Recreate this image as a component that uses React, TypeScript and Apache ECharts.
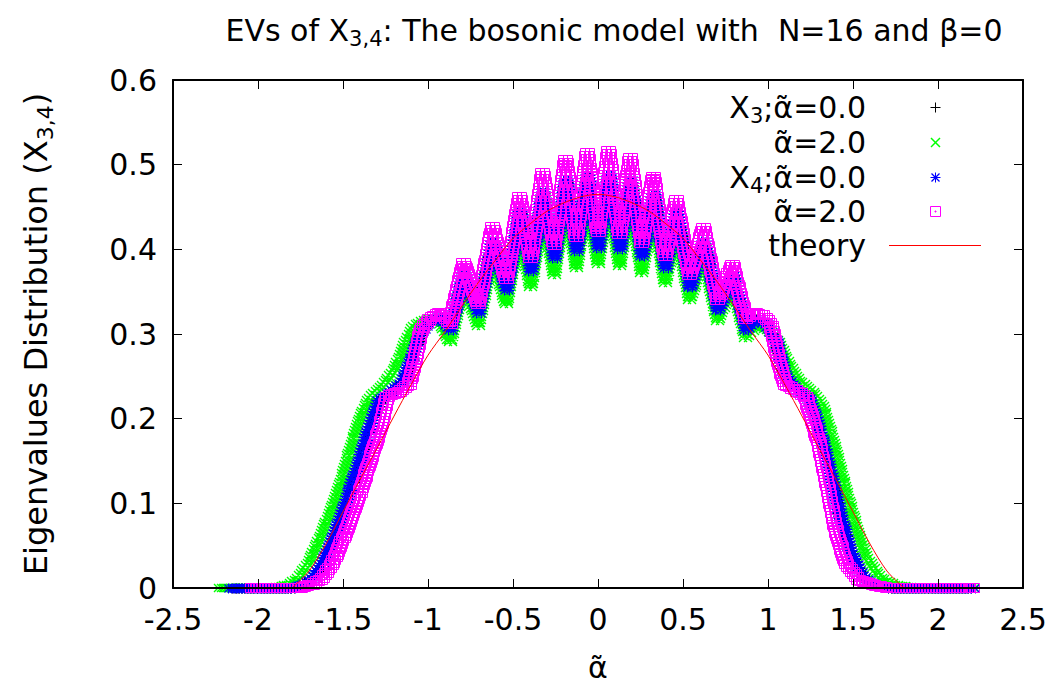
import React, { useEffect, useRef } from "react";
import * as echarts from "echarts";

const FONT = "DejaVu Sans";
const TA = "\u03B1\u0303"; // alpha with tilde

// Axis setup
const X_MIN = -2.5;
const X_MAX = 2.5;
const X_STEP = 0.5;
const Y_MIN = 0;
const Y_MAX = 0.6;
const Y_STEP = 0.1;

const TITLE = "EVs of X{s|3,4}: The bosonic model with  N=16 and \u03B2=0";
const Y_NAME = "Eigenvalues Distribution (X{s|3,4})";
const X_NAME = TA;

const LEGEND_LABELS = [
  `X{s|3};${TA}=0.0`,
  `${TA}=2.0`,
  `X{s|4};${TA}=0.0`,
  `${TA}=2.0`,
  "theory",
];

// X3, alpha~ = 0 (black +)
const x3Alpha0: number[][] = [
  [-2.14, 0], [-1.8, 0], [-1.73, 0.005], [-1.67, 0.014], [-1.61, 0.033], [-1.54, 0.068],
  [-1.46, 0.115], [-1.39, 0.158], [-1.33, 0.198], [-1.28, 0.222], [-1.21, 0.233], [-1.14, 0.247],
  [-1.09, 0.272], [-1.04, 0.302], [-0.98, 0.316], [-0.92, 0.32], [-0.87, 0.307], [-0.79, 0.368],
  [-0.705, 0.327], [-0.62, 0.408], [-0.54, 0.354], [-0.46, 0.443], [-0.395, 0.377], [-0.325, 0.466],
  [-0.258, 0.392], [-0.19, 0.48], [-0.127, 0.4], [-0.063, 0.486], [0, 0.404], [0.063, 0.486],
  [0.127, 0.402], [0.19, 0.48], [0.258, 0.394], [0.325, 0.463], [0.395, 0.38], [0.46, 0.443],
  [0.54, 0.357], [0.62, 0.408], [0.705, 0.33], [0.79, 0.368], [0.87, 0.307], [0.92, 0.318],
  [0.99, 0.311], [1.05, 0.288], [1.1, 0.25], [1.16, 0.236], [1.24, 0.224], [1.29, 0.193],
  [1.35, 0.148], [1.42, 0.088], [1.48, 0.044], [1.55, 0.014], [1.62, 0.004], [1.72, 0], [2.18, 0],
];

// X3, alpha~ = 2 (green x)
const x3Alpha2: number[][] = [
  [-2.22, 0], [-1.9, 0], [-1.82, 0.004], [-1.76, 0.012], [-1.7, 0.03], [-1.62, 0.065],
  [-1.53, 0.112], [-1.46, 0.16], [-1.4, 0.2], [-1.34, 0.225], [-1.26, 0.24], [-1.19, 0.26],
  [-1.13, 0.29], [-1.08, 0.31], [-1.0, 0.318], [-0.93, 0.315], [-0.87, 0.29], [-0.79, 0.36],
  [-0.705, 0.31], [-0.62, 0.395], [-0.54, 0.335], [-0.46, 0.425], [-0.395, 0.355], [-0.325, 0.45],
  [-0.258, 0.37], [-0.19, 0.462], [-0.127, 0.378], [-0.063, 0.468], [0, 0.383], [0.063, 0.468],
  [0.127, 0.38], [0.19, 0.462], [0.258, 0.372], [0.325, 0.45], [0.395, 0.36], [0.46, 0.428],
  [0.54, 0.34], [0.62, 0.395], [0.705, 0.315], [0.79, 0.36], [0.87, 0.295], [0.93, 0.31],
  [1.0, 0.305], [1.06, 0.29], [1.12, 0.265], [1.18, 0.245], [1.26, 0.232], [1.32, 0.215],
  [1.38, 0.175], [1.45, 0.12], [1.52, 0.07], [1.58, 0.035], [1.66, 0.012], [1.74, 0.004],
  [1.85, 0], [2.2, 0],
];

// X4, alpha~ = 0 (blue *)
const x4Alpha0: number[][] = [
  [-2.16, 0], [-1.8, 0], [-1.74, 0.004], [-1.68, 0.012], [-1.62, 0.03], [-1.55, 0.065],
  [-1.47, 0.112], [-1.4, 0.155], [-1.34, 0.195], [-1.29, 0.222], [-1.22, 0.232], [-1.15, 0.245],
  [-1.1, 0.27], [-1.05, 0.3], [-0.99, 0.315], [-0.93, 0.32], [-0.87, 0.305], [-0.79, 0.37],
  [-0.705, 0.325], [-0.62, 0.41], [-0.54, 0.352], [-0.46, 0.445], [-0.395, 0.375], [-0.325, 0.468],
  [-0.258, 0.39], [-0.19, 0.482], [-0.127, 0.398], [-0.063, 0.488], [0, 0.402], [0.063, 0.488],
  [0.127, 0.4], [0.19, 0.482], [0.258, 0.392], [0.325, 0.465], [0.395, 0.378], [0.46, 0.445],
  [0.54, 0.355], [0.62, 0.41], [0.705, 0.328], [0.79, 0.37], [0.87, 0.305], [0.92, 0.318],
  [0.99, 0.312], [1.05, 0.29], [1.1, 0.25], [1.16, 0.235], [1.24, 0.225], [1.29, 0.195],
  [1.35, 0.15], [1.42, 0.09], [1.48, 0.045], [1.55, 0.015], [1.62, 0.004], [1.72, 0], [2.2, 0],
];

// X4, alpha~ = 2 (magenta squares)
const x4Alpha2: number[][] = [
  [-2.03, 0], [-1.75, 0], [-1.68, 0.004], [-1.62, 0.012], [-1.56, 0.03], [-1.48, 0.068],
  [-1.4, 0.112], [-1.34, 0.151], [-1.28, 0.19], [-1.24, 0.226], [-1.17, 0.232], [-1.11, 0.24],
  [-1.08, 0.266], [-1.04, 0.305], [-0.99, 0.318], [-0.93, 0.325], [-0.87, 0.312], [-0.79, 0.384],
  [-0.705, 0.335], [-0.62, 0.426], [-0.54, 0.365], [-0.46, 0.462], [-0.395, 0.39], [-0.325, 0.49],
  [-0.258, 0.405], [-0.19, 0.506], [-0.127, 0.415], [-0.063, 0.514], [0, 0.42], [0.063, 0.516],
  [0.127, 0.418], [0.19, 0.508], [0.258, 0.408], [0.325, 0.486], [0.395, 0.392], [0.46, 0.458],
  [0.54, 0.37], [0.62, 0.425], [0.705, 0.34], [0.79, 0.382], [0.87, 0.318], [0.91, 0.325],
  [0.97, 0.322], [1.02, 0.31], [1.06, 0.27], [1.1, 0.24], [1.16, 0.234], [1.22, 0.226],
  [1.26, 0.2], [1.3, 0.17], [1.35, 0.12], [1.4, 0.068], [1.46, 0.028], [1.53, 0.01],
  [1.62, 0.003], [1.72, 0], [2.2, 0],
];

// theory curve
const theory: number[][] = [
  [-1.8, 0], [-1.7, 0.02], [-1.6, 0.052], [-1.5, 0.09], [-1.4, 0.128], [-1.3, 0.165],
  [-1.2, 0.203], [-1.1, 0.24], [-1.0, 0.275], [-0.9, 0.303], [-0.8, 0.333], [-0.7, 0.362],
  [-0.6, 0.388], [-0.5, 0.413], [-0.4, 0.43], [-0.3, 0.445], [-0.2, 0.455], [-0.1, 0.462],
  [0, 0.465], [0.1, 0.462], [0.2, 0.455], [0.3, 0.445], [0.4, 0.43], [0.5, 0.413],
  [0.6, 0.388], [0.7, 0.362], [0.8, 0.333], [0.9, 0.303], [1.0, 0.275], [1.1, 0.24],
  [1.2, 0.203], [1.3, 0.165], [1.4, 0.128], [1.5, 0.09], [1.6, 0.052], [1.7, 0.02], [1.8, 0],
];

const COLORS = {
  black: "#000000",
  green: "#00ff00",
  blue: "#0000ff",
  magenta: "#ff00ff",
  red: "#ff0000",
};

type Kind = "plus" | "cross" | "star" | "box";

function glyph(kind: Kind, x: number, y: number): string {
  const hx = Math.round(x) + 0.5;
  const hy = Math.round(y) + 0.5;
  const ix = Math.round(x);
  const iy = Math.round(y);
  switch (kind) {
    case "plus":
      return `M${hx - 5} ${hy}h10M${hx} ${hy - 5}v10`;
    case "cross":
      return `M${ix - 4} ${iy - 4}l8 8M${ix - 4} ${iy + 4}l8 -8`;
    case "star":
      return `M${hx - 5} ${hy}h10M${hx} ${hy - 5}v10M${hx - 4} ${hy - 4}l8 8M${hx - 4} ${hy + 4}l8 -8`;
    default:
      return `M${ix - 4.5} ${iy - 4.5}h9v9h-9zM${ix - 0.5} ${iy - 0.5}h1v1h-1z`;
  }
}

const LINE_W: Record<Kind, number> = { plus: 1, cross: 1.4, star: 1.1, box: 1 };

function toSegments(points: number[][]): number[][] {
  const segs: number[][] = [];
  for (let i = 0; i < points.length - 1; i++) {
    segs.push([points[i][0], points[i][1], points[i + 1][0], points[i + 1][1], i === points.length - 2 ? 1 : 0]);
  }
  return segs;
}

// Each segment of a traced point cloud is drawn as a dense run of the series' glyph
// (brush width: two glyphs side by side, as in the dense original scatter).
function makeRenderItem(kind: Kind, color: string, step: number, brush: number) {
  return (_params: any, api: any) => {
    const a = api.coord([api.value(0), api.value(1)]);
    const b = api.coord([api.value(2), api.value(3)]);
    const last = api.value(4) === 1;
    const dx = b[0] - a[0];
    const dy = b[1] - a[1];
    const len = Math.sqrt(dx * dx + dy * dy);
    const n = Math.max(1, Math.round(len / step));
    const end = last ? n : n - 1;
    let d = "";
    for (let i = 0; i <= end; i++) {
      const t = i / n;
      const x = a[0] + dx * t;
      const y = a[1] + dy * t;
      d += glyph(kind, x - brush, y) + glyph(kind, x + brush, y);
    }
    return {
      type: "path",
      shape: { pathData: d },
      style: { stroke: color, fill: "none", lineWidth: LINE_W[kind] },
    };
  };
}

function pointSeries(name: string, pts: number[][], kind: Kind, color: string, step: number, brush: number) {
  return {
    name,
    type: "custom",
    coordinateSystem: "cartesian2d",
    xAxisIndex: 0,
    yAxisIndex: 0,
    silent: true,
    clip: false,
    encode: { x: [0, 2], y: [1, 3] },
    data: toSegments(pts),
    renderItem: makeRenderItem(kind, color, step, brush),
    z: 2,
  };
}

const subStyle = { fontSize: 21, fontFamily: FONT, lineHeight: 36, padding: [18, 0, 0, 0], color: "#000" };
const subStyleY = { fontSize: 22, fontFamily: FONT, lineHeight: 38, padding: [18, 0, 0, 0], color: "#000" };

export default function App() {
  const ref = useRef<HTMLDivElement>(null);

  useEffect(() => {
    if (!ref.current) return;
    const chart = echarts.init(ref.current, undefined, { renderer: "svg" });

    const axisCommon = {
      min: X_MIN,
      max: X_MAX,
      interval: X_STEP,
    };
    const lineCol = { color: "#000", width: 2 };
    const tickCol = { color: "#000", width: 1 };

    const legendY = [107, 142, 177, 211, 245];
    const legendText = LEGEND_LABELS.map((t, i) => ({
      type: "text",
      x: 866,
      y: legendY[i],
      z: 100,
      style: {
        text: t,
        align: "right",
        verticalAlign: "middle",
        fontFamily: FONT,
        fontSize: 30,
        lineHeight: 36,
        fill: "#000",
        rich: { s: subStyle },
      },
    }));
    const lx = 935.5;
    const legendMarks: any[] = [
      { type: "line", shape: { x1: lx - 5, y1: 107.5, x2: lx + 5, y2: 107.5 }, style: { stroke: COLORS.black, lineWidth: 1 } },
      { type: "line", shape: { x1: lx, y1: 102.5, x2: lx, y2: 112.5 }, style: { stroke: COLORS.black, lineWidth: 1 } },
      { type: "line", shape: { x1: lx - 4.5, y1: 138, x2: lx + 4.5, y2: 147 }, style: { stroke: COLORS.green, lineWidth: 1.5 } },
      { type: "line", shape: { x1: lx - 4.5, y1: 147, x2: lx + 4.5, y2: 138 }, style: { stroke: COLORS.green, lineWidth: 1.5 } },
      { type: "line", shape: { x1: lx - 5, y1: 177.5, x2: lx + 5, y2: 177.5 }, style: { stroke: COLORS.blue, lineWidth: 1 } },
      { type: "line", shape: { x1: lx, y1: 172.5, x2: lx, y2: 182.5 }, style: { stroke: COLORS.blue, lineWidth: 1 } },
      { type: "line", shape: { x1: lx - 4, y1: 173.5, x2: lx + 4, y2: 181.5 }, style: { stroke: COLORS.blue, lineWidth: 1.2 } },
      { type: "line", shape: { x1: lx - 4, y1: 181.5, x2: lx + 4, y2: 173.5 }, style: { stroke: COLORS.blue, lineWidth: 1.2 } },
      { type: "rect", shape: { x: lx - 5, y: 206.5, width: 10, height: 10 }, style: { stroke: COLORS.magenta, fill: "none", lineWidth: 1 } },
      { type: "rect", shape: { x: lx - 0.5, y: 211, width: 1, height: 1 }, style: { stroke: COLORS.magenta, fill: COLORS.magenta, lineWidth: 1 } },
      { type: "line", shape: { x1: 889, y1: 245.5, x2: 981, y2: 245.5 }, style: { stroke: COLORS.red, lineWidth: 1 } },
    ];

    chart.setOption({
      animation: false,
      backgroundColor: "#ffffff",
      title: {
        text: TITLE,
        left: 614,
        top: 12,
        textAlign: "center",
        padding: 0,
        textStyle: {
          fontFamily: FONT,
          fontSize: 30,
          fontWeight: "normal",
          color: "#000",
          lineHeight: 36,
          rich: { s: subStyle },
        },
      },
      grid: { left: 173, right: 32, top: 80, bottom: 106, containLabel: false },
      xAxis: [
        {
          type: "value",
          ...axisCommon,
          position: "bottom",
          z: 10,
          name: X_NAME,
          nameLocation: "middle",
          nameGap: 64,
          nameTextStyle: { fontFamily: FONT, fontSize: 30, color: "#000" },
          axisLine: { show: true, onZero: false, lineStyle: lineCol },
          axisTick: { show: true, inside: true, length: 9, lineStyle: tickCol },
          axisLabel: { fontFamily: FONT, fontSize: 30, color: "#000", margin: 16 },
          splitLine: { show: false },
        },
        {
          type: "value",
          ...axisCommon,
          position: "top",
          z: 10,
          axisLine: { show: true, onZero: false, lineStyle: lineCol },
          axisTick: { show: true, inside: true, length: 9, lineStyle: tickCol },
          axisLabel: { show: false },
          splitLine: { show: false },
        },
      ],
      yAxis: [
        {
          type: "value",
          min: Y_MIN,
          max: Y_MAX,
          interval: Y_STEP,
          position: "left",
          z: 10,
          name: Y_NAME,
          nameLocation: "middle",
          nameGap: 118,
          nameTextStyle: {
            fontFamily: FONT,
            fontSize: 32,
            color: "#000",
            lineHeight: 38,
            rich: { s: subStyleY },
          },
          axisLine: { show: true, onZero: false, lineStyle: lineCol },
          axisTick: { show: true, inside: true, length: 9, lineStyle: tickCol },
          axisLabel: { fontFamily: FONT, fontSize: 30, color: "#000", margin: 16 },
          splitLine: { show: false },
        },
        {
          type: "value",
          min: Y_MIN,
          max: Y_MAX,
          interval: Y_STEP,
          position: "right",
          z: 10,
          axisLine: { show: true, onZero: false, lineStyle: lineCol },
          axisTick: { show: true, inside: true, length: 9, lineStyle: tickCol },
          axisLabel: { show: false },
          splitLine: { show: false },
        },
      ],
      series: [
        pointSeries("X3 a=0.0", x3Alpha0, "plus", COLORS.black, 3, 2),
        pointSeries("X3 a=2.0", x3Alpha2, "cross", COLORS.green, 3, 2.5),
        pointSeries("X4 a=0.0", x4Alpha0, "star", COLORS.blue, 3, 2.5),
        pointSeries("X4 a=2.0", x4Alpha2, "box", COLORS.magenta, 3, 2.5),
        {
          name: "theory",
          type: "line",
          data: theory,
          smooth: 0.3,
          showSymbol: false,
          silent: true,
          lineStyle: { color: COLORS.red, width: 1 },
          z: 5,
        },
      ],
      graphic: [...legendText, ...legendMarks],
    });

    return () => chart.dispose();
  }, []);

  return (
    <div
      ref={ref}
      style={{ position: "fixed", left: 0, top: 0, width: 1055, height: 694, background: "#fff" }}
    />
  );
}
